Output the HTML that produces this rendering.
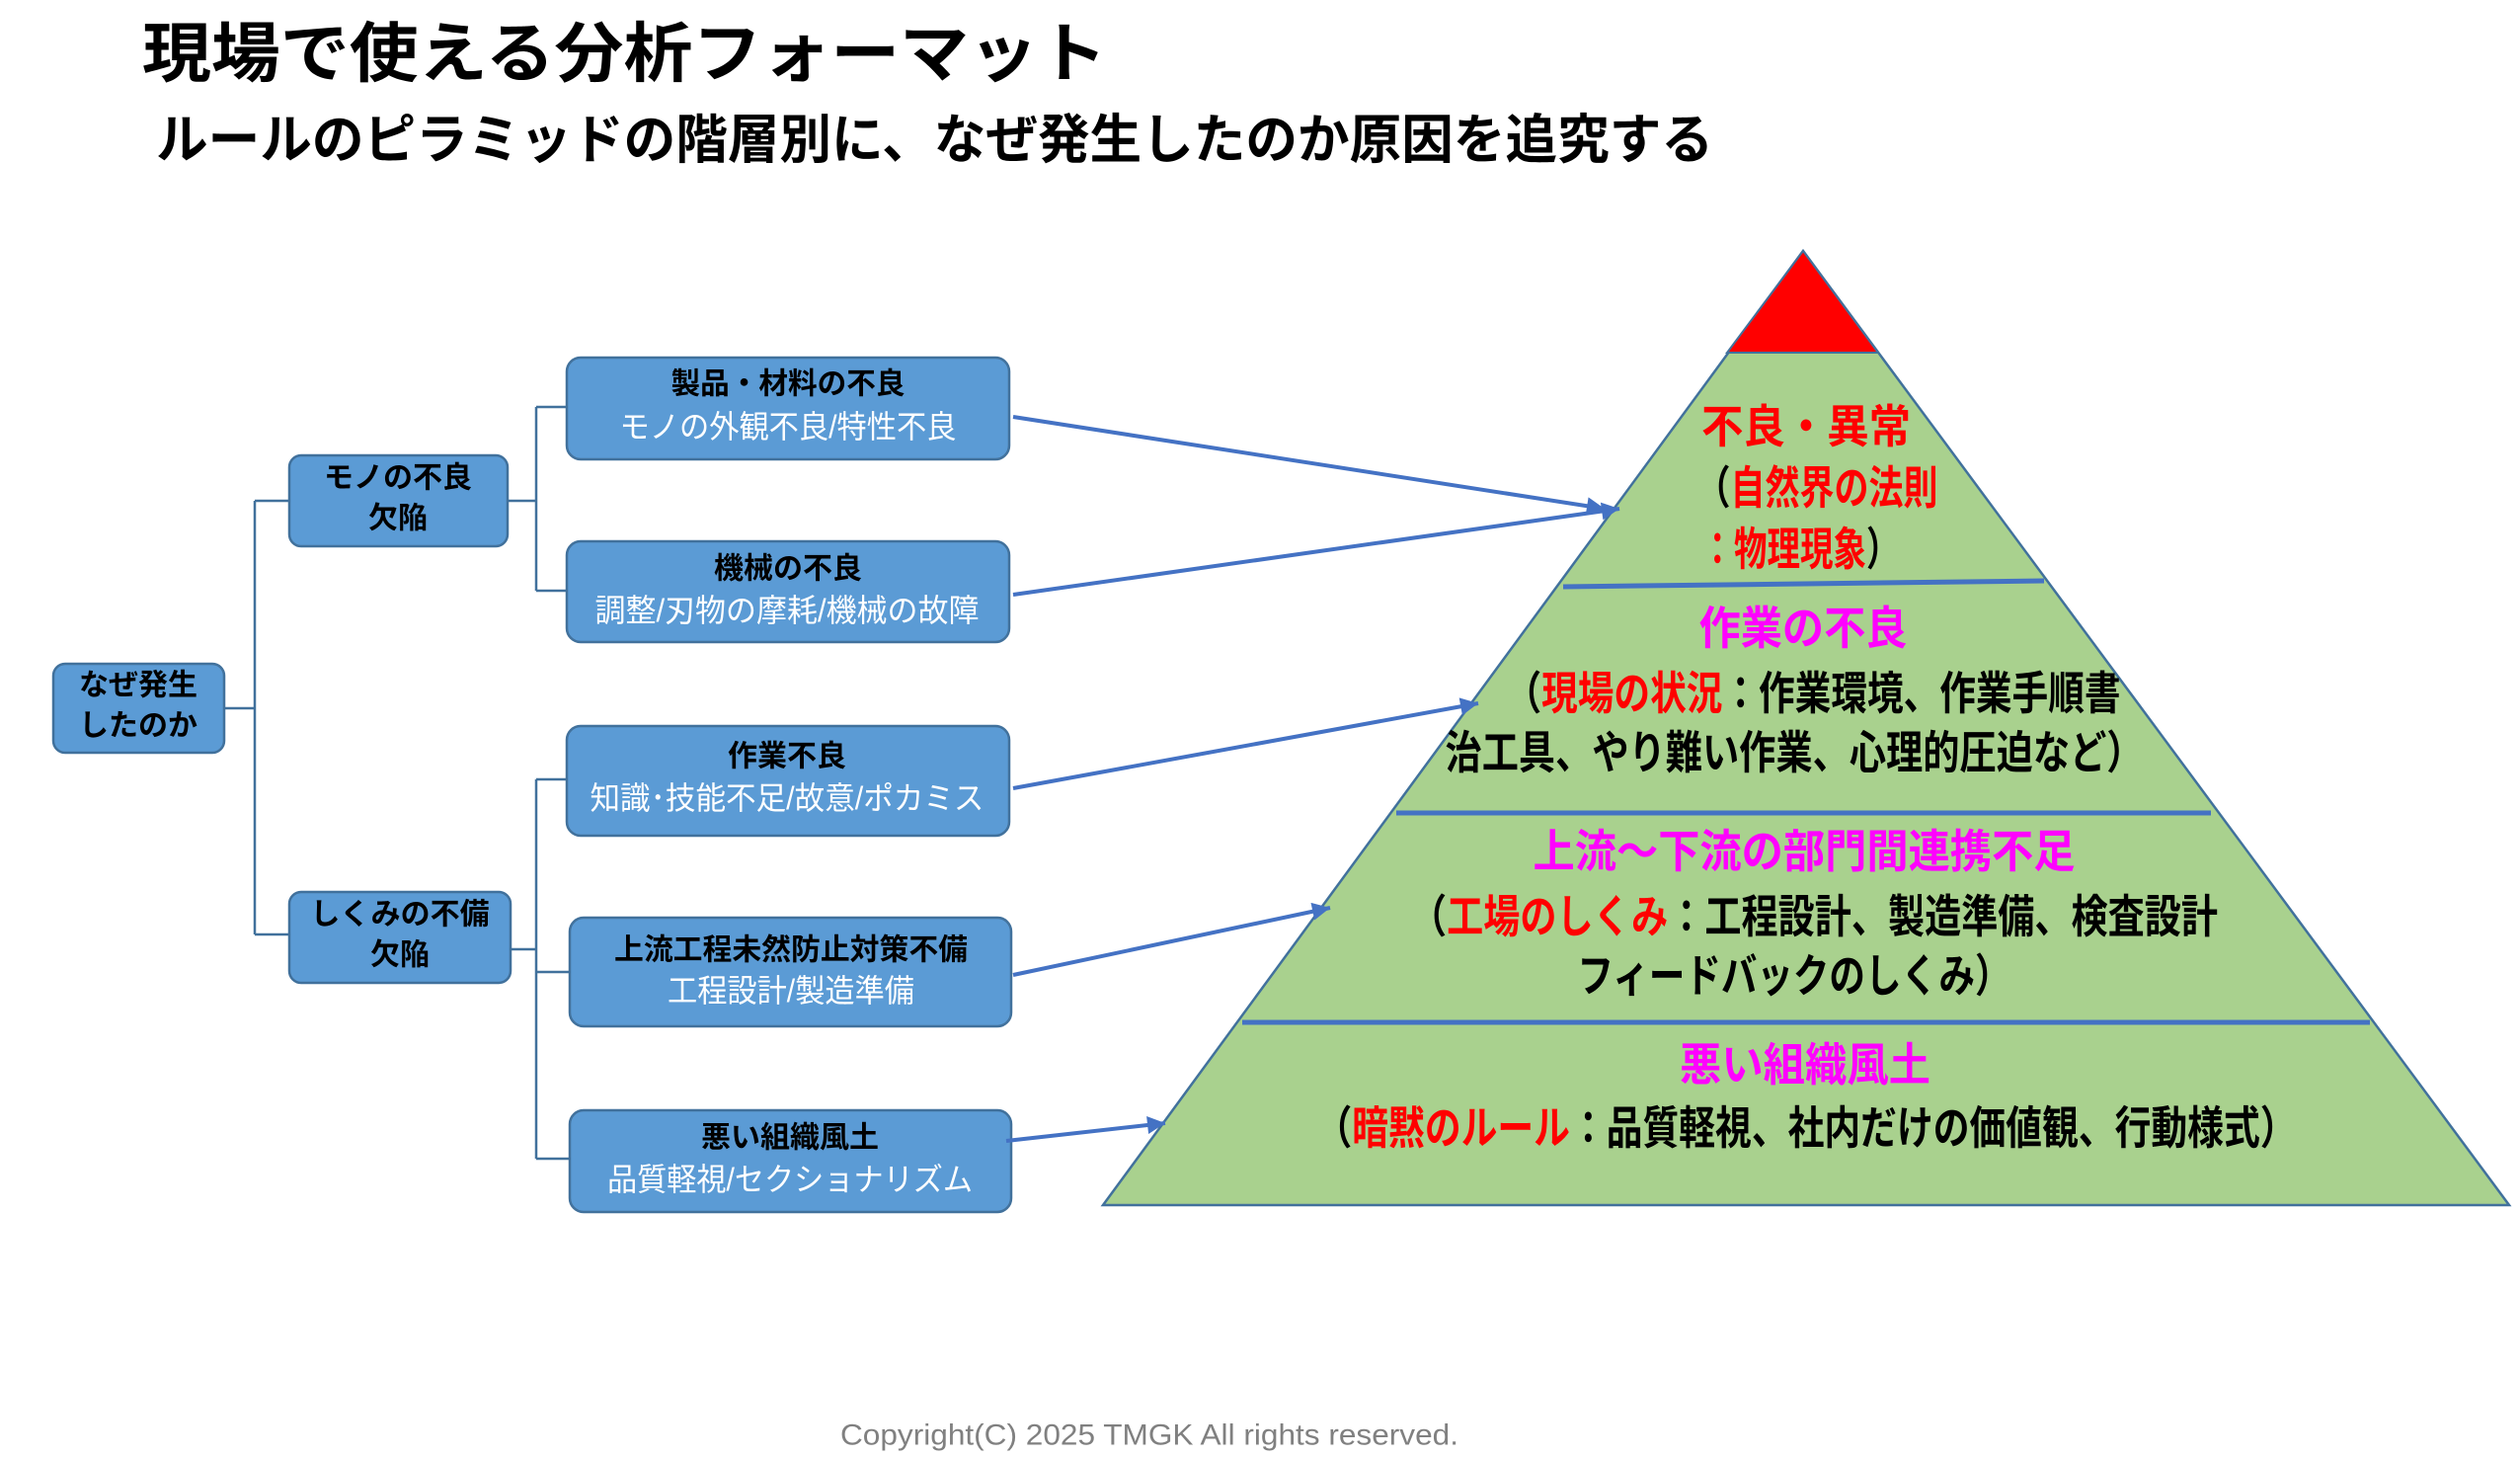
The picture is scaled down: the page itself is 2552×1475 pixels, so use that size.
<!DOCTYPE html>
<html><head><meta charset="utf-8"><style>
html,body{margin:0;padding:0;background:#fff;}
svg{display:block;}
text{font-family:"Liberation Sans","Noto Sans CJK JP",sans-serif;}
</style></head><body>
<svg width="2552" height="1475" viewBox="0 0 2552 1475" xmlns="http://www.w3.org/2000/svg">
<defs><marker id="ah" markerWidth="10" markerHeight="10" refX="9" refY="5" orient="auto" markerUnits="userSpaceOnUse"><path d="M0,0 L18,5 L0,10 z" fill="#4472c4" transform="scale(0.6,1)"/></marker>
<marker id="a2" viewBox="0 0 10 10" markerWidth="22" markerHeight="18" refX="10" refY="5" orient="auto" markerUnits="userSpaceOnUse"><path d="M0,0 L10,5 L0,10 z" fill="#4472c4"/></marker></defs>

<text x="144" y="54" font-size="66" font-weight="bold" dominant-baseline="central" textLength="977" lengthAdjust="spacingAndGlyphs">現場で使える分析フォーマット</text>
<text x="158" y="142" font-size="54" font-weight="bold" dominant-baseline="central" textLength="1577" lengthAdjust="spacingAndGlyphs">ルールのピラミッドの階層別に、なぜ発生したのか原因を追究する</text>

<!-- tree connectors -->
<g stroke="#41719c" stroke-width="2.5" fill="none">
<path d="M227,717 H258 M258,507 V946 M258,507 H293 M258,946 H293"/>
<path d="M514,507 H543 M543,412 V598 M543,412 H574 M543,598 H574"/>
<path d="M517,961 H543 M543,789 V1173 M543,789 H574 M543,984 H577 M543,1173 H577"/>
</g>

<!-- boxes -->
<g fill="#5b9bd5" stroke="#41719c" stroke-width="2.5">
<rect x="54" y="672" width="173" height="90" rx="12"/>
<rect x="293" y="461" width="221" height="92" rx="12"/>
<rect x="293" y="903" width="224" height="92" rx="12"/>
<rect x="574" y="362" width="448" height="103" rx="14"/>
<rect x="574" y="548" width="448" height="102" rx="14"/>
<rect x="574" y="735" width="448" height="111" rx="14"/>
<rect x="577" y="929" width="447" height="110" rx="14"/>
<rect x="577" y="1124" width="447" height="103" rx="14"/>
</g>
<g font-weight="bold" font-size="30" fill="#000" text-anchor="middle" dominant-baseline="central">
<text x="140" y="694">なぜ発生</text>
<text x="140" y="735">したのか</text>
<text x="403" y="484">モノの不良</text>
<text x="403" y="525">欠陥</text>
<text x="405" y="926">しくみの不備</text>
<text x="405" y="967">欠陥</text>
<text x="798" y="389" textLength="237" lengthAdjust="spacingAndGlyphs">製品・材料の不良</text>
<text x="798" y="576">機械の不良</text>
<text x="797" y="766">作業不良</text>
<text x="801" y="962" textLength="358" lengthAdjust="spacingAndGlyphs">上流工程未然防止対策不備</text>
<text x="800" y="1152">悪い組織風土</text>
</g>
<g font-size="32" fill="#fff" text-anchor="middle" dominant-baseline="central">
<text x="798" y="432" textLength="341" lengthAdjust="spacingAndGlyphs">モノの外観不良/特性不良</text>
<text x="797" y="618" textLength="389" lengthAdjust="spacingAndGlyphs">調整/刃物の摩耗/機械の故障</text>
<text x="797" y="808" textLength="399" lengthAdjust="spacingAndGlyphs">知識･技能不足/故意/ポカミス</text>
<text x="801" y="1003" textLength="250" lengthAdjust="spacingAndGlyphs">工程設計/製造準備</text>
<text x="800" y="1194" textLength="370" lengthAdjust="spacingAndGlyphs">品質軽視/セクショナリズム</text>
</g>

<!-- pyramid -->
<polygon points="1826,254 1117,1220 2541,1220" fill="#a9d18e" stroke="#41719c" stroke-width="2.5"/>
<polygon points="1826,254 1749,357 1902,357" fill="#ff0000" stroke="#41719c" stroke-width="2"/>
<g stroke="#4472c4" stroke-width="5">
<line x1="1583" y1="594" x2="2070" y2="588"/>
<line x1="1414" y1="823" x2="2239" y2="823"/>
<line x1="1258" y1="1035" x2="2400" y2="1035"/>
</g>

<!-- arrows -->
<g stroke="#4472c4" stroke-width="4" fill="none">
<line x1="1026" y1="422" x2="1625" y2="515" marker-end="url(#a2)"/>
<line x1="1026" y1="602" x2="1640" y2="515" marker-end="url(#a2)"/>
<line x1="1026" y1="798" x2="1497" y2="712" marker-end="url(#a2)"/>
<line x1="1026" y1="987" x2="1347" y2="919" marker-end="url(#a2)"/>
<line x1="1019" y1="1155" x2="1180" y2="1137" marker-end="url(#a2)"/>
</g>

<g font-weight="bold" font-size="46" text-anchor="middle" dominant-baseline="central">
<text x="1829" y="432" fill="#ff0000" textLength="212" lengthAdjust="spacingAndGlyphs">不良・異常</text>
<text x="1840" y="494" textLength="245" lengthAdjust="spacingAndGlyphs"><tspan fill="#000">（</tspan><tspan fill="#ff0000">自然界の法則</tspan></text>
<text x="1823" y="556" textLength="201" lengthAdjust="spacingAndGlyphs"><tspan fill="#ff0000">：物理現象</tspan><tspan fill="#000">）</tspan></text>
<text x="1826" y="636" fill="#ff00ff" textLength="211" lengthAdjust="spacingAndGlyphs">作業の不良</text>
<text x="1836" y="702" fill="#000" textLength="623" lengthAdjust="spacingAndGlyphs">（<tspan fill="#ff0000">現場の状況</tspan>：作業環境、作業手順書</text>
<text x="1817" y="762" fill="#000" textLength="707" lengthAdjust="spacingAndGlyphs">治工具、やり難い作業、心理的圧迫など）</text>
<text x="1827" y="862" fill="#ff00ff" textLength="549" lengthAdjust="spacingAndGlyphs">上流～下流の部門間連携不足</text>
<text x="1837" y="928" fill="#000" textLength="818" lengthAdjust="spacingAndGlyphs">（<tspan fill="#ff0000">工場のしくみ</tspan>：工程設計、製造準備、検査設計</text>
<text x="1817" y="988" fill="#000" textLength="439" lengthAdjust="spacingAndGlyphs">フィードバックのしくみ）</text>
<text x="1828" y="1078" fill="#ff00ff" textLength="254" lengthAdjust="spacingAndGlyphs">悪い組織風土</text>
<text x="1829" y="1142" fill="#000" textLength="993" lengthAdjust="spacingAndGlyphs">（<tspan fill="#ff0000">暗黙のルール</tspan>：品質軽視、社内だけの価値観、行動様式）</text>
</g>

<text x="1164" y="1453" font-size="30" fill="#808080" text-anchor="middle" dominant-baseline="central" textLength="626" lengthAdjust="spacingAndGlyphs">Copyright(C) 2025 TMGK All rights reserved.</text>
</svg>
</body></html>
